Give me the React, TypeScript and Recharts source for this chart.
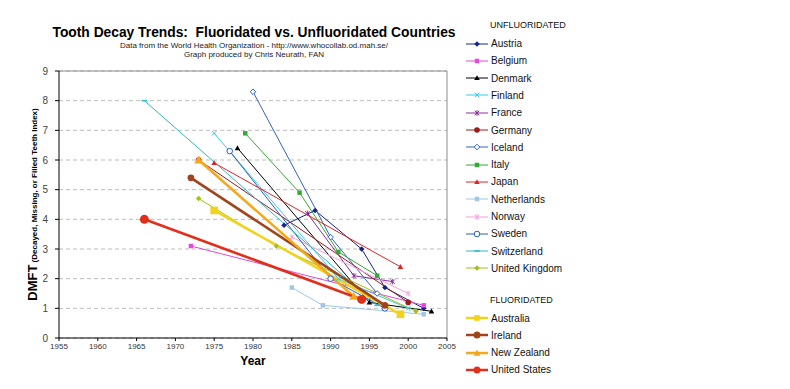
import React from "react";
import { LineChart, Line, XAxis, YAxis, CartesianGrid, ReferenceLine, Label } from "recharts";

const yearTicks = [1955, 1960, 1965, 1970, 1975, 1980, 1985, 1990, 1995, 2000, 2005];
const dmftTicks = [0, 1, 2, 3, 4, 5, 6, 7, 8, 9];

// unfluoridated countries
const austriaYears = [1984, 1988, 1994, 1997, 2002];
const austriaDmft = [3.8, 4.3, 3.0, 1.7, 1.0];
const belgiumYears = [1972, 2002];
const belgiumDmft = [3.1, 1.1];
const denmarkYears = [1978, 1995, 2003];
const denmarkDmft = [6.4, 1.2, 0.9];
const finlandYears = [1975, 1991, 2000];
const finlandDmft = [6.9, 2.0, 1.0];
const franceYears = [1987, 1993, 1998];
const franceDmft = [4.2, 2.1, 1.9];
const germanyYears = [1973, 2000];
const germanyDmft = [6.0, 1.2];
const icelandYears = [1980, 1990, 1996];
const icelandDmft = [8.3, 3.4, 1.5];
const italyYears = [1979, 1986, 1991, 1996];
const italyDmft = [6.9, 4.9, 2.9, 2.1];
const japanYears = [1975, 1999];
const japanDmft = [5.9, 2.4];
const netherlandsYears = [1985, 1989, 2002];
const netherlandsDmft = [1.7, 1.1, 0.8];
const norwayYears = [1985, 2000];
const norwayDmft = [3.4, 1.5];
const swedenYears = [1977, 1990, 1997];
const swedenDmft = [6.3, 2.0, 1.0];
const switzerlandYears = [1966, 1996];
const switzerlandDmft = [8.0, 1.1];
const ukYears = [1973, 1983, 2001];
const ukDmft = [4.7, 3.1, 0.9];

// fluoridated countries
const australiaYears = [1975, 1999];
const australiaDmft = [4.3, 0.8];
const irelandYears = [1972, 1997];
const irelandDmft = [5.4, 1.1];
const newZealandYears = [1973, 1993];
const newZealandDmft = [6.0, 1.4];
const usYears = [1966, 1994];
const usDmft = [4.0, 1.3];

type Shape = "diamond" | "square" | "triangle" | "x" | "star" | "circle" | "odiamond" | "ocircle" | "dash";

interface Series {
  name: string;
  years: number[];
  dmft: number[];
  color: string;
  shape: Shape;
  fluoridated: boolean;
  markerSize: number;
}

const unfluoridated: Series[] = [
  { name: "Austria", years: austriaYears, dmft: austriaDmft, color: "#14248c", shape: "diamond", fluoridated: false, markerSize: 2.8 },
  { name: "Belgium", years: belgiumYears, dmft: belgiumDmft, color: "#e648d8", shape: "square", fluoridated: false, markerSize: 2.8 },
  { name: "Denmark", years: denmarkYears, dmft: denmarkDmft, color: "#000000", shape: "triangle", fluoridated: false, markerSize: 2.8 },
  { name: "Finland", years: finlandYears, dmft: finlandDmft, color: "#33ccf0", shape: "x", fluoridated: false, markerSize: 2.8 },
  { name: "France", years: franceYears, dmft: franceDmft, color: "#8c2c9c", shape: "star", fluoridated: false, markerSize: 2.8 },
  { name: "Germany", years: germanyYears, dmft: germanyDmft, color: "#9c1c1c", shape: "circle", fluoridated: false, markerSize: 2.8 },
  { name: "Iceland", years: icelandYears, dmft: icelandDmft, color: "#3064c8", shape: "odiamond", fluoridated: false, markerSize: 2.8 },
  { name: "Italy", years: italyYears, dmft: italyDmft, color: "#33aa33", shape: "square", fluoridated: false, markerSize: 2.8 },
  { name: "Japan", years: japanYears, dmft: japanDmft, color: "#e02424", shape: "triangle", fluoridated: false, markerSize: 2.8 },
  { name: "Netherlands", years: netherlandsYears, dmft: netherlandsDmft, color: "#9cc8e4", shape: "square", fluoridated: false, markerSize: 2.8 },
  { name: "Norway", years: norwayYears, dmft: norwayDmft, color: "#f4a0dc", shape: "star", fluoridated: false, markerSize: 2.8 },
  { name: "Sweden", years: swedenYears, dmft: swedenDmft, color: "#2a5cc8", shape: "ocircle", fluoridated: false, markerSize: 2.8 },
  { name: "Switzerland", years: switzerlandYears, dmft: switzerlandDmft, color: "#30b8c8", shape: "dash", fluoridated: false, markerSize: 2.8 },
  { name: "United Kingdom", years: ukYears, dmft: ukDmft, color: "#a4c020", shape: "diamond", fluoridated: false, markerSize: 2.8 },
];

const fluoridated: Series[] = [
  { name: "Australia", years: australiaYears, dmft: australiaDmft, color: "#f2d21c", shape: "square", fluoridated: true, markerSize: 4.8 },
  { name: "Ireland", years: irelandYears, dmft: irelandDmft, color: "#a0441c", shape: "circle", fluoridated: true, markerSize: 3.4 },
  { name: "New Zealand", years: newZealandYears, dmft: newZealandDmft, color: "#f4a81c", shape: "triangle", fluoridated: true, markerSize: 4.5 },
  { name: "United States", years: usYears, dmft: usDmft, color: "#e0301c", shape: "circle", fluoridated: true, markerSize: 4.5 },
];

const FONT = "'Liberation Sans', Arial, sans-serif";

function Marker({ shape, cx, cy, r, color }: { shape: Shape; cx: number; cy: number; r: number; color: string }) {
  switch (shape) {
    case "diamond":
      return <polygon points={`${cx},${cy - r} ${cx + r},${cy} ${cx},${cy + r} ${cx - r},${cy}`} fill={color} />;
    case "odiamond":
      return (
        <polygon
          points={`${cx},${cy - r} ${cx + r},${cy} ${cx},${cy + r} ${cx - r},${cy}`}
          fill="#fff"
          stroke={color}
          strokeWidth={1}
        />
      );
    case "square":
      return <rect x={cx - r * 0.8} y={cy - r * 0.8} width={r * 1.6} height={r * 1.6} fill={color} />;
    case "triangle":
      return <polygon points={`${cx},${cy - r} ${cx + r},${cy + r * 0.75} ${cx - r},${cy + r * 0.75}`} fill={color} />;
    case "x":
      return (
        <g stroke={color} strokeWidth={1}>
          <line x1={cx - r * 0.8} y1={cy - r * 0.8} x2={cx + r * 0.8} y2={cy + r * 0.8} />
          <line x1={cx - r * 0.8} y1={cy + r * 0.8} x2={cx + r * 0.8} y2={cy - r * 0.8} />
        </g>
      );
    case "star":
      return (
        <g stroke={color} strokeWidth={1}>
          <line x1={cx - r * 0.8} y1={cy - r * 0.8} x2={cx + r * 0.8} y2={cy + r * 0.8} />
          <line x1={cx - r * 0.8} y1={cy + r * 0.8} x2={cx + r * 0.8} y2={cy - r * 0.8} />
          <line x1={cx} y1={cy - r} x2={cx} y2={cy + r} />
        </g>
      );
    case "circle":
      return <circle cx={cx} cy={cy} r={r} fill={color} />;
    case "ocircle":
      return <circle cx={cx} cy={cy} r={r} fill="#fff" stroke={color} strokeWidth={1} />;
    case "dash":
      return <line x1={cx - r} y1={cy} x2={cx + r} y2={cy} stroke={color} strokeWidth={1.5} />;
  }
  return null;
}

function YAxisTitle({ viewBox }: any) {
  const cx = 37;
  const cy = viewBox ? viewBox.y + viewBox.height / 2 : 204;
  return (
    <text
      x={cx}
      y={cy}
      transform={`rotate(-90, ${cx}, ${cy})`}
      textAnchor="middle"
      fontFamily={FONT}
      fontWeight="bold"
      fill="#000"
    >
      <tspan fontSize={13}>DMFT</tspan>
      <tspan fontSize={8}> (Decayed, Missing, or Filled Teeth Index)</tspan>
    </text>
  );
}

function LegendRow({ s, top }: { s: Series; top: number }) {
  return (
    <div style={{ position: "absolute", left: 464, top: top - 6, height: 12, display: "flex", alignItems: "center" }}>
      <svg width={26} height={12}>
        <line x1={2} y1={6} x2={24} y2={6} stroke={s.color} strokeWidth={s.fluoridated ? 2.5 : 1} />
        <Marker shape={s.shape} cx={13} cy={6} r={s.fluoridated ? 3.5 : 2.8} color={s.color} />
      </svg>
      <span style={{ fontFamily: FONT, fontSize: 10, color: "#111", marginLeft: 1 }}>{s.name}</span>
    </div>
  );
}

export default function App() {
  const all = [...unfluoridated, ...fluoridated];
  return (
    <div style={{ position: "absolute", left: 0, top: 0, width: 790, height: 389, background: "#fff", overflow: "hidden" }}>
      <div
        style={{
          position: "absolute",
          left: 0,
          width: 508,
          top: 25,
          textAlign: "center",
          fontFamily: FONT,
          fontWeight: "bold",
          fontSize: 13.8,
          lineHeight: "16px",
          color: "#000",
          whiteSpace: "pre",
        }}
      >
        {"Tooth Decay Trends:  Fluoridated vs. Unfluoridated Countries"}
      </div>
      <div
        style={{
          position: "absolute",
          left: 0,
          width: 508,
          top: 42,
          textAlign: "center",
          fontFamily: FONT,
          fontSize: 8,
          lineHeight: "8.5px",
          color: "#222",
        }}
      >
        <div>Data from the World Health Organization - http://www.whocollab.od.mah.se/</div>
        <div>Graph produced by Chris Neurath, FAN</div>
      </div>

      <LineChart width={790} height={389} margin={{ top: 71, right: 343, bottom: 21, left: 1 }}>
        <CartesianGrid horizontal vertical={false} stroke="#bdbdbd" strokeDasharray="4 3" />
        <XAxis
          type="number"
          dataKey="year"
          domain={[1955, 2005]}
          ticks={yearTicks}
          allowDataOverflow
          height={30}
          stroke="#000"
          tickSize={3}
          tickMargin={2}
          tick={{ fontSize: 8, fontFamily: FONT, fill: "#333" }}
        >
          <Label value="Year" position="insideBottom" offset={3} style={{ fontSize: 12, fontWeight: "bold", fontFamily: FONT, fill: "#000" }} />
        </XAxis>
        <YAxis
          type="number"
          domain={[0, 9]}
          ticks={dmftTicks}
          width={58}
          stroke="#000"
          tickSize={4}
          tickMargin={7}
          tick={{ fontSize: 10, fontFamily: FONT, fill: "#444" }}
        >
          <Label content={<YAxisTitle />} />
        </YAxis>
        <ReferenceLine y={9} stroke="#8c8c8c" strokeWidth={1} />
        <ReferenceLine x={2005} stroke="#8c8c8c" strokeWidth={1} />
        {all.map((s) => {
          const data = s.years.map((year, i) => ({ year, dmft: s.dmft[i] }));
          return (
            <Line
              key={s.name}
              name={s.name}
              data={data}
              dataKey="dmft"
              type="linear"
              stroke={s.color}
              strokeWidth={s.fluoridated ? 2.6 : 1}
              isAnimationActive={false}
              dot={(p: any) => (
                <Marker key={`${s.name}-${p.index}`} shape={s.shape} cx={p.cx} cy={p.cy} r={s.markerSize} color={s.color} />
              )}
              activeDot={false}
            />
          );
        })}
      </LineChart>

      <div style={{ position: "absolute", left: 490, top: 20, fontFamily: FONT, fontSize: 9, color: "#111", lineHeight: "11px" }}>
        UNFLUORIDATED
      </div>
      {unfluoridated.map((s, i) => (
        <LegendRow key={s.name} s={s} top={43.5 + i * 17.3} />
      ))}
      <div style={{ position: "absolute", left: 490, top: 295, fontFamily: FONT, fontSize: 9, color: "#111", lineHeight: "11px" }}>
        FLUORIDATED
      </div>
      {fluoridated.map((s, i) => (
        <LegendRow key={s.name} s={s} top={318 + i * 17.3} />
      ))}
    </div>
  );
}
